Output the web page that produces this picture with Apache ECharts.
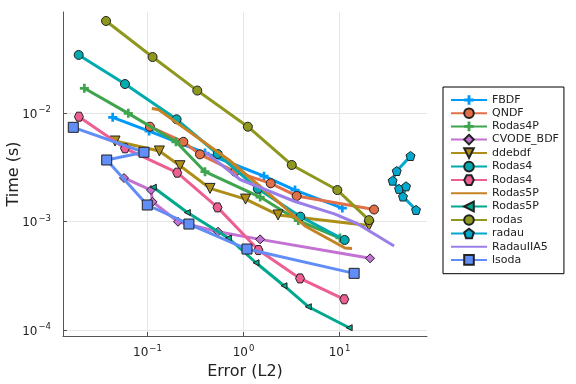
<!DOCTYPE html>
<html><head><meta charset="utf-8">
<script src="https://cdn.jsdelivr.net/npm/echarts@6/dist/echarts.min.js"></script>
<style>html,body{margin:0;padding:0;background:#fff}#c{width:576px;height:384px}</style>
</head><body><div id="c"></div><script>
// ---- data (Error (L2), Time (s)) ----
const seriesNames = ['FBDF','QNDF','Rodas4P','CVODE_BDF','ddebdf','Rodas4','Rodas4','Rodas5P','Rodas5P','rodas','radau','RadauIIA5','lsoda'];
const fbdfErr = [0.0434, 0.104, 0.397, 1.635, 3.44, 10.7];
const fbdfTime = [0.00912, 0.00682, 0.00428, 0.00262, 0.00195, 0.00133];
const qndfErr = [0.106, 0.236, 0.352, 0.816, 1.92, 3.58, 22.9];
const qndfTime = [0.00748, 0.00543, 0.00416, 0.00288, 0.00225, 0.00172, 0.00129];
const rodas4pErr = [0.0220, 0.0631, 0.198, 0.397, 1.49, 3.72, 10.1];
const rodas4pTime = [0.0169, 0.00993, 0.00543, 0.00288, 0.00168, 0.00102, 0.000705];
const cvodeErr = [0.0569, 0.1088, 0.1127, 0.208, 0.542, 1.49, 20.8];
const cvodeTime = [0.00252, 0.00195, 0.00152, 0.000995, 0.000805, 0.000685, 0.000458];
const ddebdfErr = [0.0459, 0.133, 0.218, 0.448, 1.05, 2.29, 20.3];
const ddebdfTime = [0.00552, 0.00447, 0.00327, 0.00202, 0.00161, 0.00115, 0.000918];
const rodas4aErr = [0.0192, 0.0583, 0.201, 0.538, 1.41, 3.91, 11.3];
const rodas4aTime = [0.0343, 0.0185, 0.00875, 0.00419, 0.00200, 0.00111, 0.000676];
const rodas4bErr = [0.0193, 0.0583, 0.204, 0.536, 1.43, 3.88, 11.2];
const rodas4bTime = [0.00925, 0.00473, 0.00282, 0.00135, 0.000546, 0.000299, 0.000192];
const rodas5paErr = [0.111, 0.129, 0.706, 2.58, 4.37, 11.4, 13.5];
const rodas5paTime = [0.0110, 0.0108, 0.00369, 0.00139, 0.000910, 0.000570, 0.000564];
const rodas5pbErr = [0.115, 0.260, 0.695, 1.35, 2.64, 4.73, 12.6];
const rodas5pbTime = [0.00207, 0.00121, 0.000705, 0.000417, 0.000256, 0.000164, 0.000105];
const rodasErr = [0.037, 0.113, 0.330, 1.11, 3.18, 9.49, 20.3];
const rodasTime = [0.0705, 0.0328, 0.0161, 0.00748, 0.00332, 0.00195, 0.00103];
const radauErr = [54.9, 39.4, 35.7, 41.7, 49.3, 45.8, 62.6];
const radauTime = [0.00402, 0.00292, 0.00238, 0.00200, 0.00211, 0.00170, 0.00128];
const radauIIA5Err = [0.397, 0.920, 3.44, 8.98, 15.2, 37.0];
const radauIIA5Time = [0.00438, 0.00244, 0.00153, 0.00117, 0.000959, 0.000594];
const lsodaErr = [0.01687, 0.0920, 0.0376, 0.0995, 0.270, 1.087, 14.2];
const lsodaTime = [0.00738, 0.00435, 0.00369, 0.00142, 0.000948, 0.000558, 0.000333];
const xTicks = [0.1, 1, 10];
const yTicks = [0.0001, 0.001, 0.01];

// ---- styling ----
const colors = ['#009AFA','#E36F47','#3EA44E','#C371D2','#AC8E18','#00AAAE','#ED5E93','#C68225','#00A98D','#8E971E','#00A9CD','#9B7FE9','#618DF6'];
const PLUS = 'path://M-1.5,-5 L1.5,-5 L1.5,-1.5 L5,-1.5 L5,1.5 L1.5,1.5 L1.5,5 L-1.5,5 L-1.5,1.5 L-5,1.5 L-5,-1.5 L-1.5,-1.5 Z';
const PENT = 'path://M0,-1 L0.951,-0.309 L0.588,0.809 L-0.588,0.809 L-0.951,-0.309 Z';
const HEX = 'path://M-1,0 L-0.5,-0.866 L0.5,-0.866 L1,0 L0.5,0.866 L-0.5,0.866 Z';
const markers = [
  {s: PLUS, z: 9, b: 0},
  {s: 'circle', z: 9, b: 1},
  {s: PLUS, z: 9, b: 0},
  {s: 'diamond', z: 9, b: 1},
  {s: 'triangle', z: 10, b: 1, r: 180},
  {s: 'circle', z: 9, b: 1},
  {s: HEX, z: 9, b: 1},
  {s: 'none'},
  {s: 'triangle', z: 6, b: 1, r: 90},
  {s: 'circle', z: 9, b: 1},
  {s: PENT, z: 9, b: 1},
  {s: 'none'},
  {s: 'rect', z: 10, b: 1}
];
const xs = [fbdfErr,qndfErr,rodas4pErr,cvodeErr,ddebdfErr,rodas4aErr,rodas4bErr,rodas5paErr,rodas5pbErr,rodasErr,radauErr,radauIIA5Err,lsodaErr];
const ys = [fbdfTime,qndfTime,rodas4pTime,cvodeTime,ddebdfTime,rodas4aTime,rodas4bTime,rodas5paTime,rodas5pbTime,rodasTime,radauTime,radauIIA5Time,lsodaTime];

const series = seriesNames.map((n, i) => {
  const m = markers[i];
  const noMark = m.s === 'none';
  return {
    name: n + (seriesNames.indexOf(n) !== i ? '\u200b' : ''),
    type: 'line',
    data: xs[i].map((x, k) => [x, ys[i][k]]),
    symbol: noMark ? 'circle' : m.s,
    symbolSize: noMark ? 0 : m.z,
    symbolRotate: m.r || 0,
    showSymbol: !noMark,
    lineStyle: {color: colors[i], width: 3},
    itemStyle: noMark ? {color: 'rgba(0,0,0,0)', borderWidth: 0}
                      : {color: colors[i], borderColor: '#222', borderWidth: m.b || 0},
    emphasis: {disabled: true},
    z: 2 + i
  };
});

const fmt = v => {
  const e = Math.round(Math.log10(v));
  return '{b|10}{s|' + (e < 0 ? '\u2212' : '') + Math.abs(e) + '}';
};
const rich = {
  b: {fontSize: 12, color: '#222', fontFamily: 'DejaVu Sans', lineHeight: 15, verticalAlign: 'bottom'},
  s: {fontSize: 8.5, color: '#222', fontFamily: 'DejaVu Sans', lineHeight: 15, verticalAlign: 'top', padding: [0, 0, 0, 1]}
};
const axisCommon = {
  type: 'log', logBase: 10,
  nameLocation: 'middle',
  nameMoveOverlap: false,
  nameTextStyle: {fontSize: 16, color: '#222', fontFamily: 'DejaVu Sans'},
  axisLine: {show: true, lineStyle: {color: '#555', width: 1}},
  axisTick: {show: true, inside: true, length: 4, lineStyle: {color: '#555'}},
  minorTick: {show: false},
  splitLine: {show: true, lineStyle: {color: '#e6e6e6', width: 1}},
  axisLabel: {formatter: fmt, rich: rich}
};

const chart = echarts.init(document.getElementById('c'), null, {renderer: 'canvas'});
const xAxisOpt = Object.assign({}, axisCommon, {
  name: 'Error (L2)', nameGap: 28,
  min: Math.pow(10, -1.88), max: Math.pow(10, 1.911)
});
xAxisOpt.axisTick = Object.assign({}, axisCommon.axisTick, {customValues: xTicks});
xAxisOpt.axisLabel = Object.assign({}, axisCommon.axisLabel, {customValues: xTicks, margin: 8});
const yAxisOpt = Object.assign({}, axisCommon, {
  name: 'Time (s)', nameGap: 41,
  min: Math.pow(10, -4.055), max: Math.pow(10, -1.069)
});
yAxisOpt.axisTick = Object.assign({}, axisCommon.axisTick, {customValues: yTicks});
yAxisOpt.axisLabel = Object.assign({}, axisCommon.axisLabel, {customValues: yTicks, margin: 12});

chart.setOption({
  animation: false,
  backgroundColor: '#fff',
  textStyle: {fontFamily: 'DejaVu Sans'},
  grid: {left: 63, right: 149, top: 12, bottom: 48, containLabel: false, outerBoundsMode: 'none'},
  xAxis: xAxisOpt,
  yAxis: yAxisOpt,
  legend: {
    orient: 'vertical', left: 443, top: 87,
    padding: [7.5, 5, 8, 7],
    itemWidth: 36, itemHeight: 12, itemGap: 1.9,
    borderColor: '#000', borderWidth: 1, borderRadius: 0,
    backgroundColor: '#fff',
    textStyle: {fontSize: 11, color: '#222', fontFamily: 'DejaVu Sans'},
    selectedMode: false
  },
  series: series
});
</script></body></html>
